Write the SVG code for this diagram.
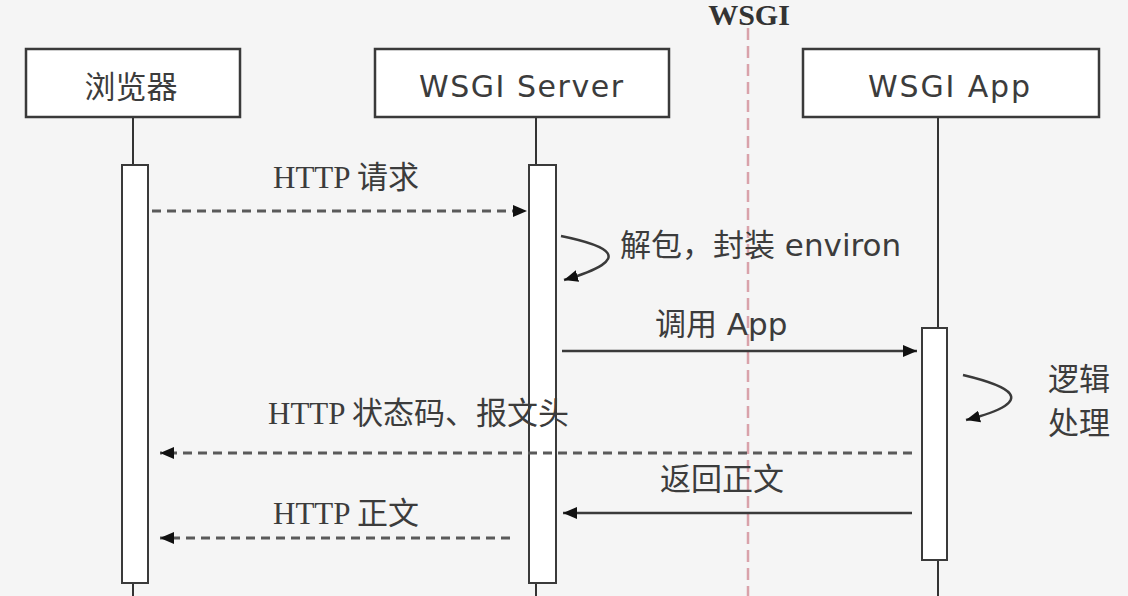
<svg xmlns="http://www.w3.org/2000/svg" width="1128" height="596" viewBox="0 0 1128 596">
<defs>
<style>
.bg{fill:#f5f5f5}
.box{fill:#ffffff;stroke:#3a3a3a;stroke-width:2.5}
.act{fill:#ffffff;stroke:#3a3a3a;stroke-width:2}
.life{stroke:#333;stroke-width:2}
.sans{font-family:"DejaVu Sans","Noto Sans CJK SC",sans-serif;fill:#3c3c3c}
.serif{font-family:"Liberation Serif","Noto Sans CJK SC",serif;fill:#3c3c3c}
.dash{stroke:#5a5a5a;stroke-width:3;stroke-dasharray:9 6;fill:none}
.solid{stroke:#3a3a3a;stroke-width:2.5;fill:none}
</style>
<marker id="ah" viewBox="0 0 14 12" refX="14" refY="6" markerWidth="14" markerHeight="12" markerUnits="userSpaceOnUse" orient="auto">
<path d="M0,0 L14,6 L0,12 Z" fill="#111"/>
</marker>
</defs>
<rect class="bg" x="0" y="0" width="1128" height="596"/>

<g id="boundary">
<line x1="748" y1="28" x2="748" y2="596" stroke="#d9a2aa" stroke-width="2.5" stroke-dasharray="12 6"/>
<text x="749" y="25" text-anchor="middle" font-family="Liberation Serif, serif" font-weight="bold" font-size="30" fill="#333">WSGI</text>
</g>

<g id="browser">
<line class="life" x1="133" y1="117" x2="133" y2="596"/>
<rect class="box" x="26" y="49" width="214" height="68"/>
<text class="sans" x="131" y="98" text-anchor="middle" font-size="31">浏览器</text>
<rect class="act" x="122" y="165" width="26" height="418"/>
</g>

<g id="server">
<line class="life" x1="536" y1="117" x2="536" y2="596"/>
<rect class="box" x="375" y="49" width="294" height="68"/>
<text class="sans" x="521" y="97" text-anchor="middle" font-size="30" textLength="204" lengthAdjust="spacing">WSGI Server</text>
<rect class="act" x="529" y="165" width="27" height="418"/>
</g>

<g id="app">
<line class="life" x1="938" y1="117" x2="938" y2="596"/>
<rect class="box" x="803" y="49" width="296" height="68"/>
<text class="sans" x="949" y="97" text-anchor="middle" font-size="30" textLength="162" lengthAdjust="spacing">WSGI App</text>
<rect class="act" x="922" y="328" width="25" height="232"/>
</g>

<g id="connectors">
<line class="dash" x1="152" y1="211" x2="527" y2="211" marker-end="url(#ah)"/>
<text class="serif" x="273" y="188" font-size="31">HTTP 请求</text>

<path class="solid" d="M561,236 C605,245 640,258 564,280" marker-end="url(#ah)"/>
<text class="sans" x="620" y="256" font-size="31">解包，封装 environ</text>

<line class="solid" x1="562" y1="351" x2="917" y2="351" marker-end="url(#ah)"/>
<text class="sans" x="655" y="335" font-size="31">调用 App</text>

<path class="solid" d="M963,375 C1005,385 1045,400 966,420" marker-end="url(#ah)"/>
<text class="sans" x="1048" y="390" font-size="31">逻辑</text>
<text class="sans" x="1048" y="434" font-size="31">处理</text>

<line class="dash" x1="912" y1="453" x2="160" y2="453" marker-end="url(#ah)"/>
<text class="serif" x="268" y="424" font-size="31">HTTP 状态码、报文头</text>

<line class="solid" x1="912" y1="513" x2="563" y2="513" marker-end="url(#ah)"/>
<text class="sans" x="660" y="490" font-size="31">返回正文</text>

<line class="dash" x1="510" y1="538" x2="160" y2="538" marker-end="url(#ah)"/>
<text class="serif" x="273" y="524" font-size="31">HTTP 正文</text>
</g>
</svg>
